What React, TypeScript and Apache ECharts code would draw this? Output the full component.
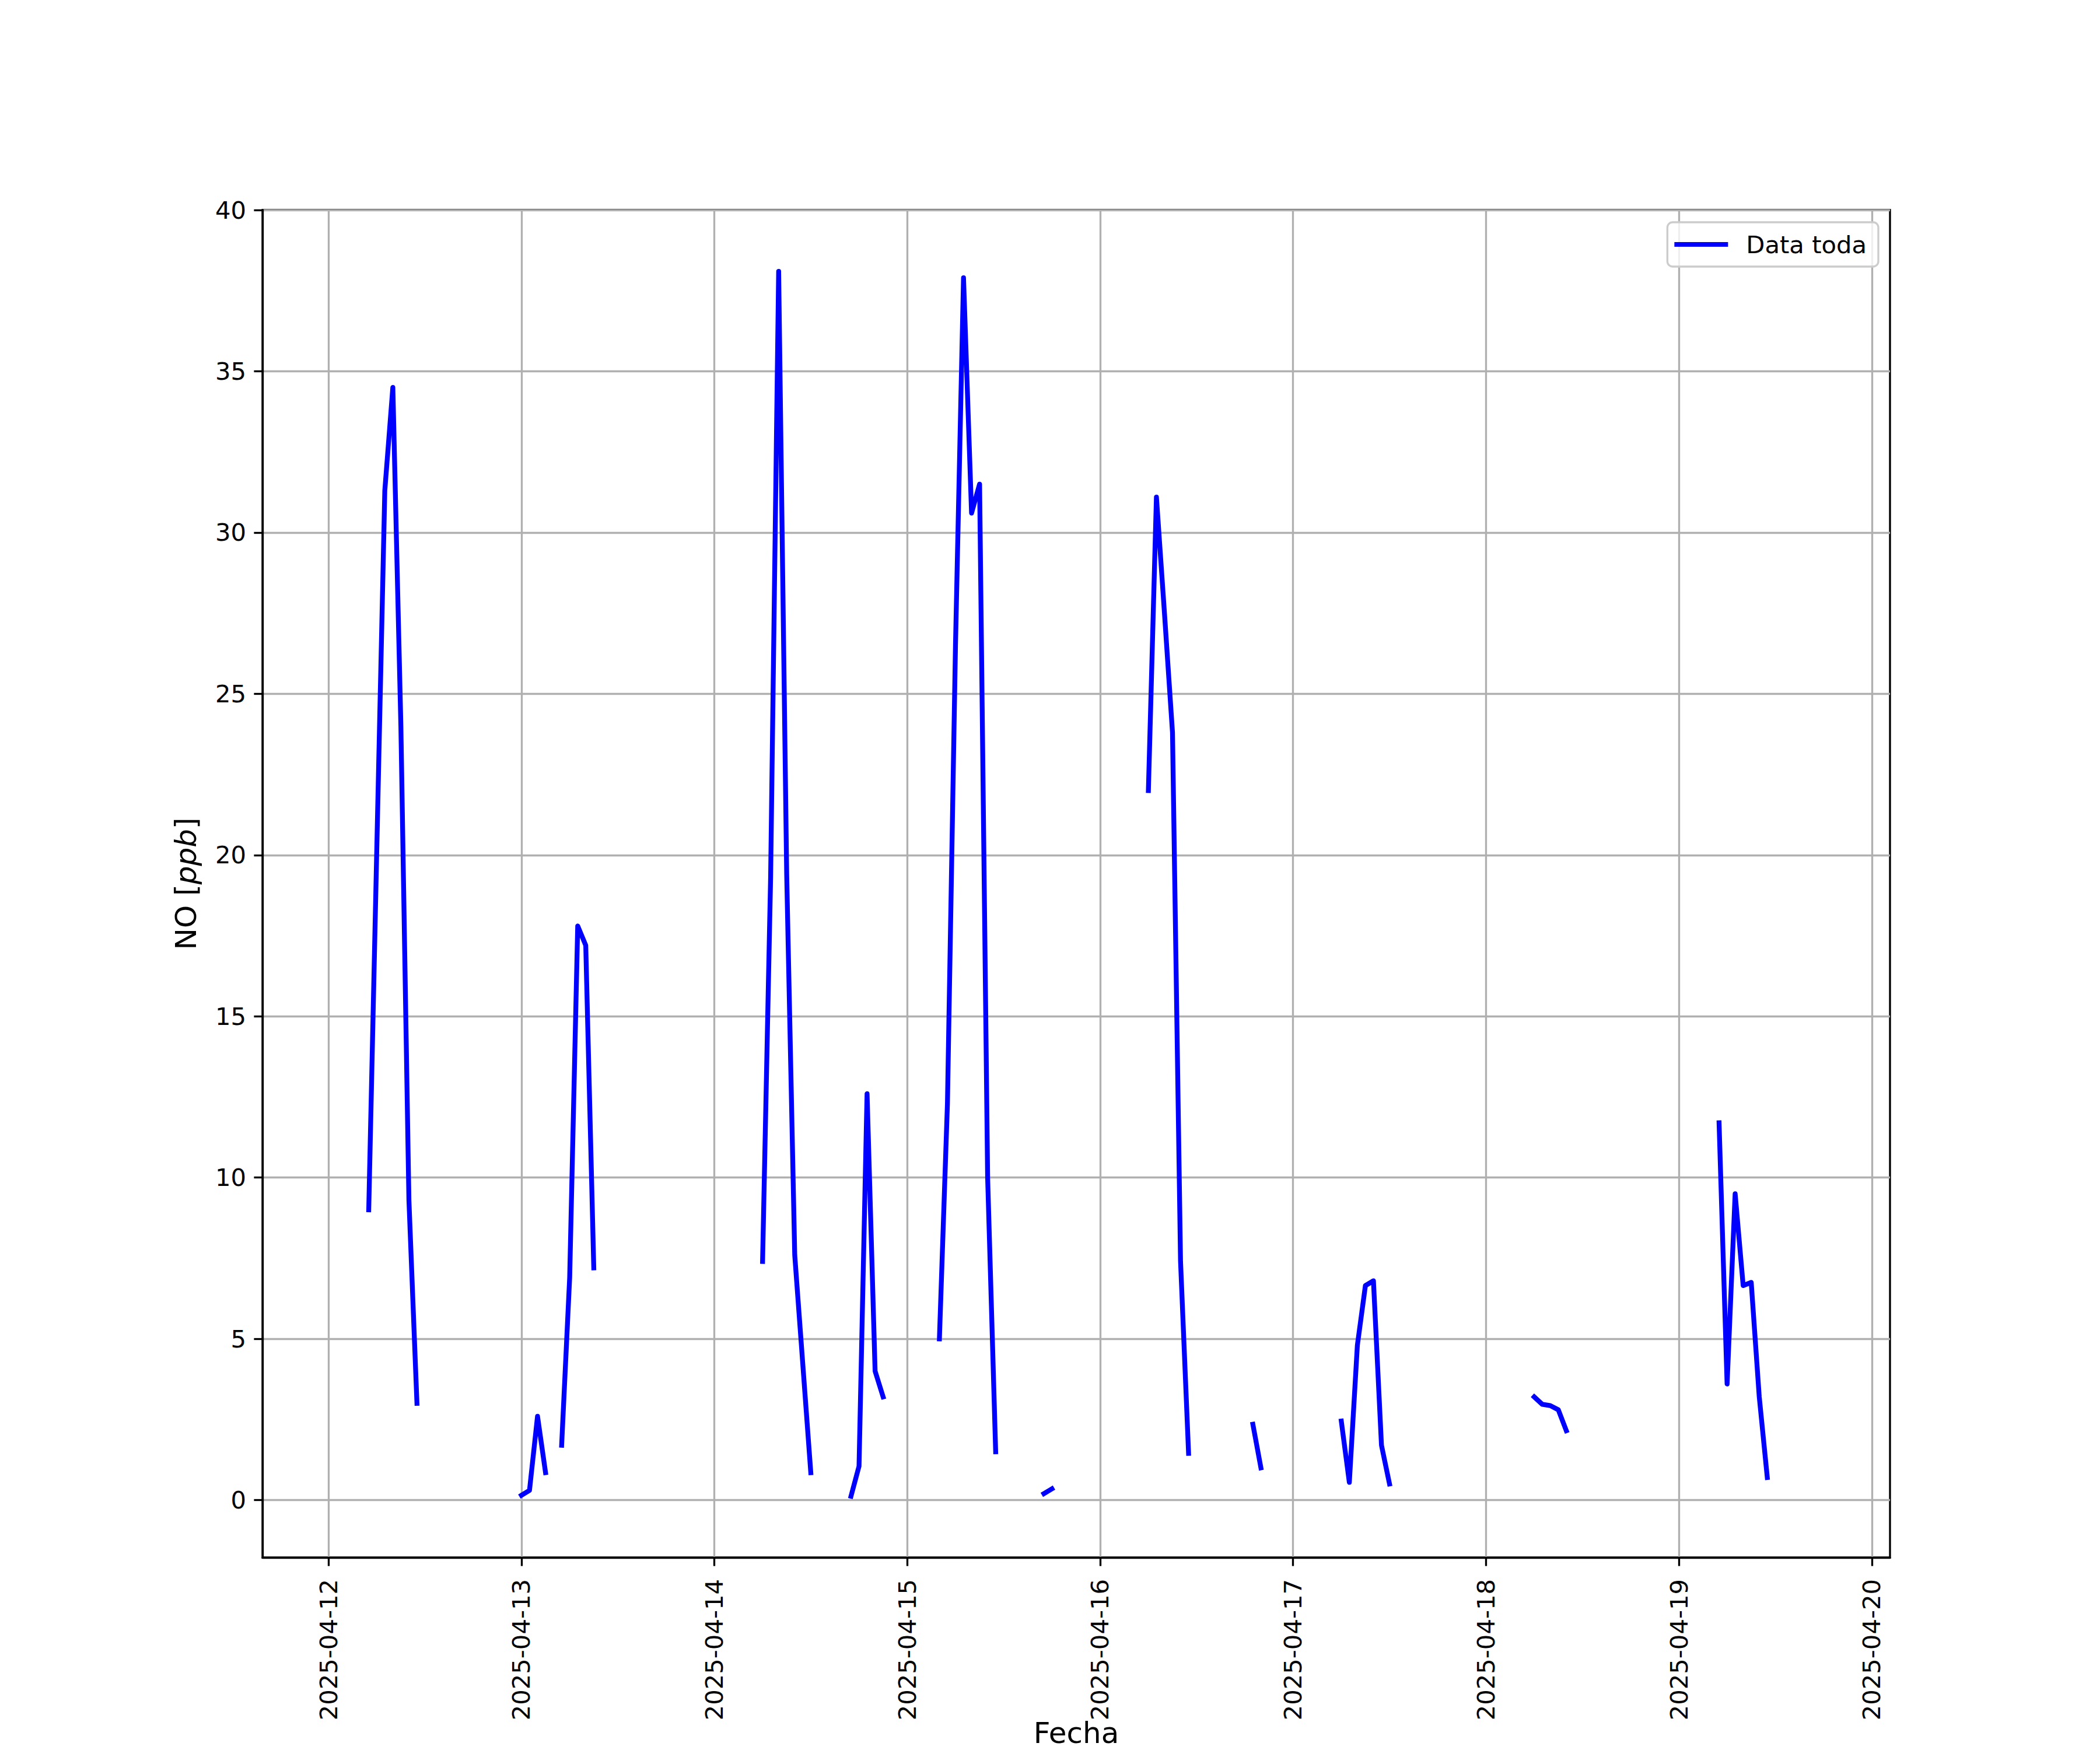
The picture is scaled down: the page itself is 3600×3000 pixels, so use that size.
import React, { useEffect, useRef } from "react";
import * as echarts from "echarts";

// NO concentration (ppb), hourly readings grouped in continuous runs
const seg1: [string, number][] = [["2025-04-12 05:00", 9.0], ["2025-04-12 07:00", 31.3], ["2025-04-12 08:00", 34.5], ["2025-04-12 09:00", 24.0], ["2025-04-12 10:00", 9.3], ["2025-04-12 11:00", 3.0]];
const seg2: [string, number][] = [["2025-04-13 00:00", 0.15], ["2025-04-13 01:00", 0.3], ["2025-04-13 02:00", 2.6], ["2025-04-13 03:00", 0.85]];
const seg3: [string, number][] = [["2025-04-13 05:00", 1.7], ["2025-04-13 06:00", 6.9], ["2025-04-13 07:00", 17.8], ["2025-04-13 08:00", 17.2], ["2025-04-13 09:00", 7.2]];
const seg4: [string, number][] = [["2025-04-14 06:00", 7.4], ["2025-04-14 07:00", 19.3], ["2025-04-14 08:00", 38.1], ["2025-04-14 09:00", 19.4], ["2025-04-14 10:00", 7.6], ["2025-04-14 12:00", 0.85]];
const seg5: [string, number][] = [["2025-04-14 17:00", 0.12], ["2025-04-14 18:00", 1.05], ["2025-04-14 19:00", 12.6], ["2025-04-14 20:00", 4.0], ["2025-04-14 21:00", 3.2]];
const seg6: [string, number][] = [["2025-04-15 04:00", 5.0], ["2025-04-15 05:00", 12.3], ["2025-04-15 06:00", 26.5], ["2025-04-15 07:00", 37.9], ["2025-04-15 08:00", 30.6], ["2025-04-15 09:00", 31.5], ["2025-04-15 10:00", 10.0], ["2025-04-15 11:00", 1.5]];
const seg7: [string, number][] = [["2025-04-15 17:00", 0.2], ["2025-04-15 18:00", 0.35]];
const seg8: [string, number][] = [["2025-04-16 06:00", 22.0], ["2025-04-16 07:00", 31.1], ["2025-04-16 08:00", 27.5], ["2025-04-16 09:00", 23.8], ["2025-04-16 10:00", 7.4], ["2025-04-16 11:00", 1.45]];
const seg9: [string, number][] = [["2025-04-16 19:00", 2.35], ["2025-04-16 20:00", 1.0]];
const seg10: [string, number][] = [["2025-04-17 06:00", 2.45], ["2025-04-17 07:00", 0.55], ["2025-04-17 08:00", 4.8], ["2025-04-17 09:00", 6.65], ["2025-04-17 10:00", 6.8], ["2025-04-17 11:00", 1.7], ["2025-04-17 12:00", 0.5]];
const seg11: [string, number][] = [["2025-04-18 06:00", 3.2], ["2025-04-18 07:00", 2.97], ["2025-04-18 08:00", 2.93], ["2025-04-18 09:00", 2.8], ["2025-04-18 10:00", 2.15]];
const seg12: [string, number][] = [["2025-04-19 05:00", 11.7], ["2025-04-19 06:00", 3.6], ["2025-04-19 07:00", 9.5], ["2025-04-19 08:00", 6.65], ["2025-04-19 09:00", 6.75], ["2025-04-19 10:00", 3.2], ["2025-04-19 11:00", 0.7]];
const segments = [seg1, seg2, seg3, seg4, seg5, seg6, seg7, seg8, seg9, seg10, seg11, seg12];

const xTickDates = ["2025-04-12", "2025-04-13", "2025-04-14", "2025-04-15", "2025-04-16", "2025-04-17", "2025-04-18", "2025-04-19", "2025-04-20"];
const yTicks = [0, 5, 10, 15, 20, 25, 30, 35, 40];
const xRange = ["2025-04-11 15:47", "2025-04-20 02:16"];
const yRange = [-1.78, 40];
const seriesName = "Data toda";

function toTime(s: string): number {
  const [d, t] = s.split(" ");
  const [y, m, day] = d.split("-").map(Number);
  const [hh, mm] = (t || "00:00").split(":").map(Number);
  return new Date(y, m - 1, day, hh, mm).getTime();
}
function fmt(v: number): string {
  const d = new Date(v);
  const p = (n: number) => String(n).padStart(2, "0");
  return `${d.getFullYear()}-${p(d.getMonth() + 1)}-${p(d.getDate())}`;
}

export default function App() {
  const ref = useRef<HTMLDivElement>(null);
  useEffect(() => {
    if (!ref.current) return;
    const chart = echarts.init(ref.current, null, { renderer: "svg" });
    const data: any[] = [];
    segments.forEach((seg, i) => {
      seg.forEach(([t, v]) => data.push([toTime(t), v]));
      if (i < segments.length - 1) {
        data.push([toTime(seg[seg.length - 1][0]) + 30 * 60 * 1000, null]);
      }
    });
    const font = "DejaVu Sans";
    const lw = 3.33;
    const xTickVals = xTickDates.map((d) => toTime(d));
    chart.setOption({
      animation: false,
      backgroundColor: "#ffffff",
      textStyle: { fontFamily: font },
      grid: {
        left: 450, right: 360, top: 360, bottom: 330,
        outerBoundsMode: "none", containLabel: false,
        show: true, borderColor: "#000000", borderWidth: lw, backgroundColor: "transparent",
      },
      legend: {
        show: true,
        data: [{ name: seriesName, icon: "rect" }],
        right: 380, top: 381,
        padding: [17, 20, 17, 12],
        itemWidth: 92, itemHeight: 8,
        backgroundColor: "rgba(255,255,255,0.8)",
        borderColor: "#cccccc", borderWidth: lw, borderRadius: 9,
        textStyle: { fontFamily: font, fontSize: 41.7, color: "#000000", padding: [0, 0, 0, 26] },
      },
      xAxis: {
        type: "value",
        min: toTime(xRange[0]), max: toTime(xRange[1]),
        name: "Fecha", nameLocation: "middle", nameGap: 276, nameMoveOverlap: false,
        nameTextStyle: { fontFamily: font, fontSize: 50, lineHeight: 50, color: "#000000" },
        axisLine: { onZero: false, lineStyle: { color: "#000000", width: lw } },
        axisTick: { show: true, customValues: xTickVals, length: 14.6, lineStyle: { color: "#000000", width: lw } },
        axisLabel: {
          customValues: xTickVals, rotate: 90, margin: 37,
          fontFamily: font, fontSize: 41.7, color: "#000000",
          formatter: (v: number) => fmt(v),
        },
        splitLine: { show: true, lineStyle: { color: "#b0b0b0", width: lw } },
      },
      yAxis: {
        type: "value",
        min: yRange[0], max: yRange[1],
        name: "{n|NO [}{i|ppb}{n|]}", nameLocation: "middle", nameRotate: 90, nameGap: 106, nameMoveOverlap: false,
        nameTextStyle: {
          fontFamily: font, fontSize: 50, color: "#000000",
          rich: {
            n: { fontFamily: font, fontSize: 50, color: "#000000" },
            i: { fontFamily: font, fontSize: 50, color: "#000000", fontStyle: "italic" },
          },
        },
        axisLine: { show: true, lineStyle: { color: "#000000", width: lw } },
        axisTick: { show: true, customValues: yTicks, length: 14.6, lineStyle: { color: "#000000", width: lw } },
        axisLabel: {
          customValues: yTicks, margin: 28,
          fontFamily: font, fontSize: 41.7, color: "#000000",
          formatter: (v: number) => String(Math.round(v)),
        },
        splitLine: { show: true, lineStyle: { color: "#b0b0b0", width: lw } },
      },
      series: [
        {
          name: seriesName,
          type: "line",
          data,
          symbol: "none",
          connectNulls: false,
          lineStyle: { color: "#0000ff", width: 8.3, cap: "square", join: "round" },
          itemStyle: { color: "#0000ff" },
        },
      ],
    });
    return () => chart.dispose();
  }, []);
  return <div ref={ref} style={{ position: "absolute", left: 0, top: 0, width: 3600, height: 3000 }} />;
}
